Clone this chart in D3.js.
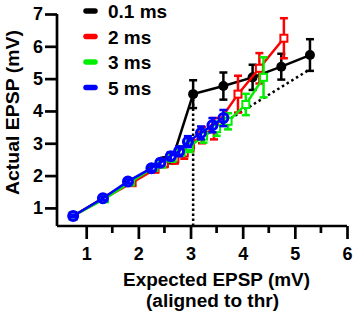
<!DOCTYPE html>
<html>
<head>
<meta charset="utf-8">
<script src="https://cdnjs.cloudflare.com/ajax/libs/d3/7.8.5/d3.min.js"></script>
<style>
  body { margin: 0; background: #fff; }
  text { font-family: "Liberation Sans", Arial, sans-serif; font-weight: bold; fill: #000; }
</style>
</head>
<body>
<div id="chart"></div>
<script>
// 0.1 ms
var blackX = [0.75, 1.32, 1.82, 2.28, 2.5, 2.65, 3.05, 3.63, 4.19, 4.74, 5.29];
var blackY = [0.75, 1.3, 1.8, 2.22, 2.45, 2.5, 4.52, 4.77, 5.04, 5.37, 5.73];
var blackE = [0.04, 0.05, 0.06, 0.08, 0.1, 0.12, 0.43, 0.42, 0.39, 0.4, 0.49];
// 2 ms
var redX = [0.75, 1.35, 1.88, 2.32, 2.5, 2.7, 2.88, 3.0, 3.22, 3.45, 3.91, 4.32, 4.79];
var redY = [0.75, 1.3, 1.78, 2.2, 2.38, 2.52, 2.7, 2.95, 3.25, 3.45, 4.52, 5.32, 6.25];
var redE = [0.04, 0.05, 0.08, 0.1, 0.12, 0.15, 0.18, 0.2, 0.25, 0.33, 0.57, 0.47, 0.62];
// 3 ms
var greenX = [0.75, 1.35, 1.85, 2.3, 2.45, 2.65, 2.82, 2.98, 3.25, 3.5, 3.72, 4.06, 4.4];
var greenY = [0.75, 1.28, 1.8, 2.25, 2.36, 2.55, 2.76, 2.9, 3.22, 3.45, 3.68, 4.2, 5.04];
var greenE = [0.04, 0.05, 0.06, 0.08, 0.1, 0.12, 0.15, 0.17, 0.2, 0.22, 0.25, 0.33, 0.62];
// 5 ms
var blueX = [0.75, 1.32, 1.8, 2.25, 2.42, 2.62, 2.78, 2.95, 3.2, 3.42, 3.63];
var blueY = [0.75, 1.3, 1.82, 2.23, 2.4, 2.6, 2.75, 3.05, 3.32, 3.56, 3.78];
var blueE = [0.04, 0.05, 0.06, 0.08, 0.1, 0.12, 0.15, 0.17, 0.2, 0.22, 0.25];

var legendLabels = ["0.1 ms", "2 ms", "3 ms", "5 ms"];
var legendColors = ["#000000", "#ff0000", "#00ee00", "#0000ff"];
var xTicks = [1, 2, 3, 4, 5, 6];
var xMinorTicks = [1.5, 2.5, 3.5, 4.5, 5.5];
var yTicks = [1, 2, 3, 4, 5, 6, 7];
var threshold = 3.05;
var thresholdY = 4.52;
var unityEnd = 5.29;

var width = 355, height = 311;

var svg = d3.select("#chart").append("svg")
    .attr("width", width)
    .attr("height", height);

var x = d3.scaleLinear().domain([0.44, 6]).range([57, 347]);
var y = d3.scaleLinear().domain([0.44, 7]).range([226, 14]);

// axes
var xAxis = svg.append("g")
    .attr("transform", "translate(0,226)")
    .call(d3.axisBottom(x).tickValues(xTicks).tickSize(13).tickPadding(8).tickFormat(d3.format("d")));
xAxis.append("g").selectAll("line")
    .data(xMinorTicks)
    .enter().append("line")
    .attr("x1", function(d) { return x(d); })
    .attr("x2", function(d) { return x(d); })
    .attr("y1", 0).attr("y2", 7)
    .attr("stroke", "#000").attr("stroke-width", 2.7);

var yAxis = svg.append("g")
    .attr("transform", "translate(57,0)")
    .call(d3.axisLeft(y).tickValues(yTicks).tickSize(12).tickPadding(2).tickFormat(d3.format("d")));

svg.selectAll(".domain").attr("stroke", "#000").attr("stroke-width", 2.7);
svg.selectAll(".tick line").attr("stroke", "#000").attr("stroke-width", 2.7);
svg.selectAll(".tick text").style("font-size", "18px").style("font-weight", "bold")
    .style("font-family", "'Liberation Sans', Arial, sans-serif");
// domain path without end caps
xAxis.select(".domain").attr("d", "M" + x(0.44) + ",0H" + x(6));
yAxis.select(".domain").attr("d", "M0," + y(0.44) + "V" + y(7));

// axis titles
svg.append("text")
    .attr("x", 123).attr("y", 286)
    .attr("textLength", 187)
    .attr("lengthAdjust", "spacingAndGlyphs")
    .style("font-size", "18px")
    .text("Expected EPSP (mV)");
svg.append("text")
    .attr("x", 146).attr("y", 307)
    .attr("textLength", 133)
    .attr("lengthAdjust", "spacingAndGlyphs")
    .style("font-size", "18px")
    .text("(aligned to thr)");
svg.append("text")
    .attr("transform", "translate(19,195) rotate(-90)")
    .attr("textLength", 165)
    .attr("lengthAdjust", "spacingAndGlyphs")
    .style("font-size", "19px")
    .text("Actual EPSP (mV)");

// dotted guide lines
svg.append("line")
    .attr("x1", x(threshold)).attr("x2", x(threshold))
    .attr("y1", y(0.44)).attr("y2", y(thresholdY))
    .attr("stroke", "#000").attr("stroke-width", 2.5)
    .attr("stroke-dasharray", "2.5,2.5");
svg.append("line")
    .attr("x1", x(threshold)).attr("y1", y(threshold))
    .attr("x2", x(unityEnd)).attr("y2", y(unityEnd))
    .attr("stroke", "#000").attr("stroke-width", 2.5)
    .attr("stroke-dasharray", "2.5,3");

function drawSeries(xs, ys, es, color, marker) {
    var pts = xs.map(function(d, i) { return { x: d, y: ys[i], e: es[i] }; });
    var g = svg.append("g");
    var line = d3.line()
        .x(function(d) { return x(d.x); })
        .y(function(d) { return y(d.y); });
    g.append("path")
        .datum(pts)
        .attr("d", line)
        .attr("fill", "none")
        .attr("stroke", color)
        .attr("stroke-width", 2.5);
    var eb = g.selectAll(".eb").data(pts).enter().append("g");
    eb.append("line")
        .attr("x1", function(d) { return x(d.x); })
        .attr("x2", function(d) { return x(d.x); })
        .attr("y1", function(d) { return y(d.y - d.e); })
        .attr("y2", function(d) { return y(d.y + d.e); })
        .attr("stroke", color).attr("stroke-width", 2.5);
    [-1, 1].forEach(function(s) {
        eb.append("line")
            .attr("x1", function(d) { return x(d.x) - 4; })
            .attr("x2", function(d) { return x(d.x) + 4; })
            .attr("y1", function(d) { return y(d.y + s * d.e); })
            .attr("y2", function(d) { return y(d.y + s * d.e); })
            .attr("stroke", color).attr("stroke-width", 2.5);
    });
    if (marker == "filled") {
        g.selectAll(".m").data(pts).enter().append("circle")
            .attr("cx", function(d) { return x(d.x); })
            .attr("cy", function(d) { return y(d.y); })
            .attr("r", 5)
            .attr("fill", color);
    } else if (marker == "square") {
        g.selectAll(".m").data(pts).enter().append("rect")
            .attr("x", function(d) { return x(d.x) - 3.5; })
            .attr("y", function(d) { return y(d.y) - 3.5; })
            .attr("width", 7).attr("height", 7)
            .attr("fill", "#fff")
            .attr("stroke", color).attr("stroke-width", 2);
    } else {
        g.selectAll(".m").data(pts).enter().append("circle")
            .attr("cx", function(d) { return x(d.x); })
            .attr("cy", function(d) { return y(d.y); })
            .attr("r", 4.5)
            .attr("fill", "none")
            .attr("stroke", color).attr("stroke-width", 3);
    }
}

drawSeries(blackX, blackY, blackE, legendColors[0], "filled");
drawSeries(redX, redY, redE, legendColors[1], "square");
drawSeries(greenX, greenY, greenE, legendColors[2], "square");
drawSeries(blueX, blueY, blueE, legendColors[3], "circle");

// legend
var legend = svg.append("g");
legendLabels.forEach(function(lab, i) {
    var ly = 11 + i * 25.5;
    legend.append("line")
        .attr("x1", 86).attr("x2", 95)
        .attr("y1", ly).attr("y2", ly)
        .attr("stroke", legendColors[i])
        .attr("stroke-width", 5.5)
        .attr("stroke-linecap", "round");
    legend.append("text")
        .attr("x", 108).attr("y", ly + 7)
        .style("font-size", "19px")
        .text(lab);
});
</script>
</body>
</html>
